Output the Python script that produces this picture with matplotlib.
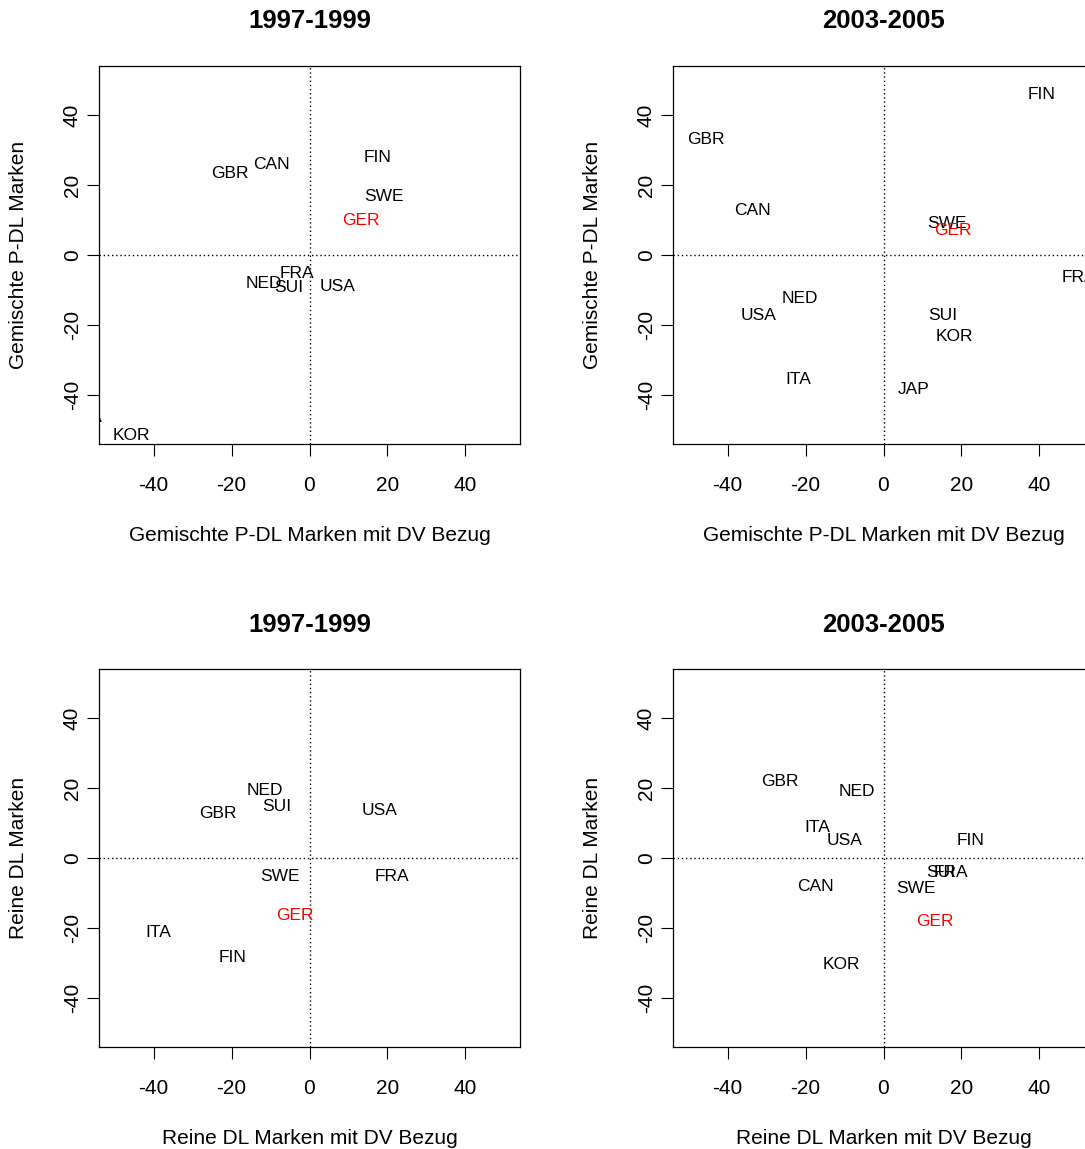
import matplotlib
matplotlib.use("Agg")
import matplotlib.pyplot as plt

plt.rcParams['font.family'] = ['Liberation Sans', 'DejaVu Sans']
plt.rcParams['axes.unicode_minus'] = False

# panel data: country codes and their (x, y) positions
p1_labels = ["GBR", "CAN", "FIN", "SWE", "GER", "FRA", "NED", "SUI", "USA", "KOR", "ITA"]
p1_x = [-20.5, -9.8, 17.5, 19.2, 13.2, -3.1, -11.7, -5.2, 7.2, -45.6, -56.4]
p1_y = [23.2, 25.9, 28.0, 16.8, 9.8, -5.2, -8.2, -9.4, -9.1, -51.5, -46.3]

p2_labels = ["FIN", "GBR", "CAN", "SWE", "GER", "FRA", "NED", "USA", "SUI", "KOR", "ITA", "JAP"]
p2_x = [40.5, -45.6, -33.5, 16.2, 17.7, 50.1, -21.5, -32.1, 15.3, 18.3, -21.8, 7.7]
p2_y = [45.9, 33.1, 12.8, 9.1, 6.9, -6.3, -12.4, -17.4, -17.4, -23.2, -35.5, -38.4]

p3_labels = ["NED", "SUI", "GBR", "USA", "SWE", "FRA", "GER", "ITA", "FIN"]
p3_x = [-11.5, -8.4, -23.6, 18.1, -7.6, 21.1, -3.8, -38.9, -19.8]
p3_y = [19.2, 14.8, 12.8, 13.7, -5.3, -5.3, -16.3, -21.3, -28.5]

p4_labels = ["GBR", "NED", "ITA", "USA", "FIN", "CAN", "SUI", "FRA", "SWE", "GER", "KOR"]
p4_x = [-26.6, -6.8, -17.0, -10.0, 22.3, -17.4, 14.6, 17.2, 8.4, 13.2, -10.9]
p4_y = [21.9, 19.1, 8.7, 5.1, 5.1, -8.1, -4.1, -4.1, -8.8, -18.2, -30.4]

titles = ["1997-1999", "2003-2005", "1997-1999", "2003-2005"]
xlabels = ["Gemischte P-DL Marken mit DV Bezug", "Gemischte P-DL Marken mit DV Bezug",
           "Reine DL Marken mit DV Bezug", "Reine DL Marken mit DV Bezug"]
ylabels = ["Gemischte P-DL Marken", "Gemischte P-DL Marken",
           "Reine DL Marken", "Reine DL Marken"]
ticks = [-40, -20, 0, 20, 40]
highlight = "GER"

W, H = 1085, 1149
fig = plt.figure(figsize=(W / 100, H / 100), dpi=100)

# axes boxes in pixels: left, top (the right column runs off the figure edge)
boxes = [(99, 66), (673, 66), (99, 669), (673, 669)]
bw, bh = 421, 378

panels = [(p1_labels, p1_x, p1_y), (p2_labels, p2_x, p2_y),
          (p3_labels, p3_x, p3_y), (p4_labels, p4_x, p4_y)]

for i, (labels, xs, ys) in enumerate(panels):
    left, top = boxes[i]
    ax = fig.add_axes([left / W, 1 - (top + bh) / H, bw / W, bh / H])
    ax.set_xlim(-54, 54)
    ax.set_ylim(-54, 54)
    ax.axhline(0, color='black', lw=1.0, linestyle=(0, (1, 2)))
    ax.axvline(0, color='black', lw=1.0, linestyle=(0, (1, 2)))
    for lab, x, y in zip(labels, xs, ys):
        col = 'red' if lab == highlight else 'black'
        ax.text(x, y, lab, ha='center', va='center', fontsize=12.5, color=col, clip_on=True)

    ax.set_xticks(ticks)
    ax.set_yticks(ticks)
    ax.tick_params(direction='out', length=8.3, width=0.8, labelsize=15, color='black')
    ax.tick_params(axis='x', pad=14.4)
    ax.tick_params(axis='y', pad=4)
    plt.setp(ax.get_yticklabels(), rotation=90, va='center')
    for s in ax.spines.values():
        s.set_linewidth(0.9)

    cx = left + bw / 2
    fig.text(cx / W, 1 - (top - 44.5) / H, titles[i], ha='center', va='center',
             fontsize=18.5, fontweight='bold')
    fig.text(cx / W, 1 - (top + bh + 91) / H, xlabels[i], ha='center', va='center', fontsize=15)
    fig.text((left - 80) / W, 1 - (top + bh / 2) / H, ylabels[i], ha='center', va='center',
             fontsize=15, rotation=90)

fig.savefig('out.png', dpi=100)
